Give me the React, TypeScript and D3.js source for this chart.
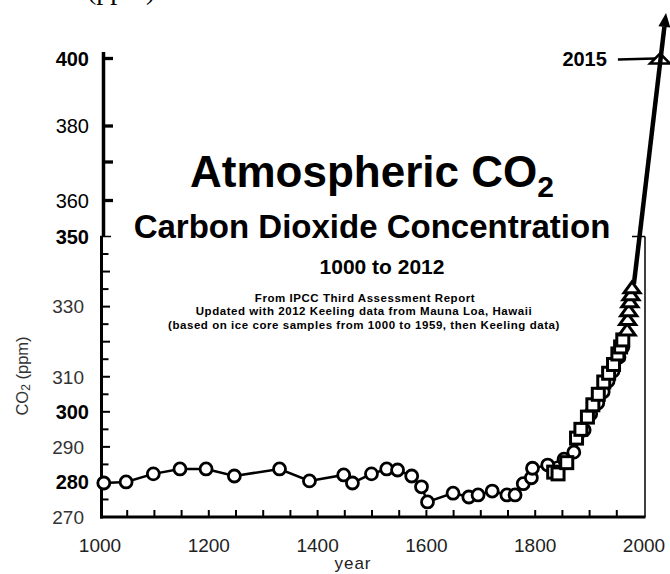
import * as d3 from 'd3'

// ice core (Law Dome style) circles, joined by a line
const circleYears = [1007, 1048, 1098, 1147, 1195, 1247, 1330, 1385, 1448, 1464, 1499, 1527, 1547, 1573, 1591, 1602, 1649, 1678, 1695, 1721, 1748, 1763, 1778, 1793, 1795, 1823, 1853, 1871, 1890, 1902, 1915, 1925, 1934, 1943, 1954, 1961]
const circlePpm = [279.7, 280.0, 282.3, 283.7, 283.7, 281.7, 283.7, 280.3, 282.0, 279.7, 282.3, 283.7, 283.4, 281.7, 278.6, 274.3, 276.8, 275.7, 276.3, 277.4, 276.3, 276.3, 279.5, 281.2, 283.9, 284.8, 286.5, 288.5, 294.8, 299.4, 302.5, 305.7, 308.8, 311.6, 315.6, 318.5]

// second ice core set (squares)
const squareYears = [1834, 1842, 1858, 1876, 1884, 1896, 1906, 1916, 1926, 1935, 1944, 1952, 1957, 1961]
const squarePpm = [282.8, 282.3, 285.5, 292.5, 295.0, 298.5, 302.0, 305.0, 308.5, 311.0, 313.5, 316.5, 318.5, 320.5]

// Keeling / Mauna Loa triangles
const triangleYears = [1969, 1970, 1972, 1974, 1976, 1978]
const trianglePpm = [323.5, 326.5, 329.0, 331.5, 333.5, 335.5]

// hand-drawn extension arrow and the 2015 pointer, as placed on the picture
const arrowYears = [1981.5, 2040.5]
const arrowPpm = [336.5, 413.5]
const pointerYears = [1952, 2021]
const pointerPpm = [399.7, 400]
const mark2015Year = 2029.5
const mark2015Ppm = 400

const xTicks = [1000, 1200, 1400, 1600, 1800, 2000]
const xMinorTicks = d3.range(1050, 2000, 50)
const yLowerMinor = d3.range(275, 350, 5)
const yUpperTicks = [360, 370, 380, 400]
const yLabels = [270, 280, 290, 300, 310, 330, 350, 360, 380, 400]
const yBoldLabels = [280, 300, 350, 400]
const yPlainDark = [360, 380]

const W = 670
const H = 574
const FONT = '"Liberation Sans", Arial, Helvetica, sans-serif'

export default function App() {
  const x = d3.scaleLinear().domain([1000, 2000]).range([100, 644])
  // the picture is a paste-up: the top part of the axis is spaced a bit differently
  const y = d3.scaleLinear()
    .domain([270, 350, 360, 370, 380, 400])
    .range([517, 236.5, 200.5, 162, 126, 58.5])

  const line = d3.line<number>()
    .x((_, i) => x(circleYears[i]))
    .y(d => y(d))

  const tri = (cx: number, cy: number, w: number, h: number) =>
    `M${cx},${cy - h / 2}L${cx + w / 2},${cy + h / 2}L${cx - w / 2},${cy + h / 2}Z`

  const ax0 = x(arrowYears[0]), ay0 = y(arrowPpm[0])
  const ax1 = x(arrowYears[1]), ay1 = y(arrowPpm[1])
  const ang = Math.atan2(ay1 - ay0, ax1 - ax0)
  const headLen = 14, headW = 6
  const bx = ax1 - headLen * Math.cos(ang), by = ay1 - headLen * Math.sin(ang)
  const head = `M${ax1},${ay1}L${bx + headW * Math.sin(ang)},${by - headW * Math.cos(ang)}L${bx - headW * Math.sin(ang)},${by + headW * Math.cos(ang)}Z`

  const px0 = x(pointerYears[0]), py0 = y(pointerPpm[0])
  const px1 = x(pointerYears[1]), py1 = y(pointerPpm[1])

  return (
    <svg width={W} height={H} style={{ position: 'absolute', left: 0, top: 0, background: '#fff' }}
      fontFamily={FONT}>
      {/* cut-off heading from the pasted image */}
      <text x={87} y={-1} fontFamily='"Liberation Serif", "Times New Roman", serif' fontSize={28}>(ppm)</text>

      {/* y axis, upper pasted part */}
      <line x1={103.5} x2={103.5} y1={52} y2={y(350)} stroke="#000" strokeWidth={3.5} />
      {yUpperTicks.map(t => (
        <line key={'ut' + t} x1={103.5} x2={113} y1={y(t)} y2={y(t)} stroke="#000" strokeWidth={3.3} />
      ))}
      {/* y axis, lower original part */}
      <line x1={101.5} x2={101.5} y1={y(350)} y2={518.5} stroke="#000" strokeWidth={3} />
      <line x1={100} x2={111} y1={y(350)} y2={y(350)} stroke="#000" strokeWidth={1.5} />
      {yLowerMinor.map(t => (
        <line key={'lt' + t} x1={102} x2={t % 10 === 0 ? 110 : 108.5} y1={y(t)} y2={y(t)} stroke="#000" strokeWidth={2} />
      ))}
      {yLabels.map(t => (
        <text key={'yl' + t} x={yBoldLabels.includes(t) || yPlainDark.includes(t) ? 89 : 84} y={y(t)} dy="0.36em"
          textAnchor="end"
          fontSize={yBoldLabels.includes(t) ? 20 : yPlainDark.includes(t) ? 20 : 19}
          fontWeight={yBoldLabels.includes(t) ? 'bold' : 'normal'}
          fill={yBoldLabels.includes(t) || yPlainDark.includes(t) ? '#000' : '#333'}>
          {t}
        </text>
      ))}

      {/* x axis */}
      <line x1={100} x2={645.5} y1={517} y2={517} stroke="#000" strokeWidth={3} />
      {xMinorTicks.map(t => (
        <line key={'xt' + t} x1={x(t)} x2={x(t)} y1={510} y2={517} stroke="#000" strokeWidth={2} />
      ))}
      {xTicks.map(t => (
        <text key={'xl' + t} x={x(t)} y={552} textAnchor="middle" fontSize={19} fill="#222">{t}</text>
      ))}
      <text x={353} y={569} textAnchor="middle" fontSize={17} letterSpacing={1} fill="#222">year</text>
      <text transform="translate(28,376) rotate(-90)" textAnchor="middle" fontSize={16.5} fill="#333">
        CO<tspan fontSize={12} dy={2}>2</tspan><tspan dy={-2}> (ppm)</tspan>
      </text>

      {/* right frame of the inset plot */}
      <line x1={645} x2={645} y1={y(350)} y2={517} stroke="#000" strokeWidth={1.5} />
      <line x1={632} x2={645} y1={y(350)} y2={y(350)} stroke="#000" strokeWidth={1.5} />

      {/* titles */}
      <text x={372} y={187} textAnchor="middle" fontSize={44} fontWeight="bold">
        Atmospheric CO<tspan fontSize={30} dy={10}>2</tspan>
      </text>
      <text x={372} y={238} textAnchor="middle" fontSize={33} fontWeight="bold">Carbon Dioxide Concentration</text>
      <text x={382} y={274} textAnchor="middle" fontSize={21} fontWeight="bold">1000 to 2012</text>
      <text x={365} y={301.5} textAnchor="middle" fontSize={11.5} letterSpacing={0.55} fontWeight="bold">From IPCC Third Assessment Report</text>
      <text x={364} y={315} textAnchor="middle" fontSize={11.5} letterSpacing={0.55} fontWeight="bold">Updated with 2012 Keeling data from Mauna Loa, Hawaii</text>
      <text x={364} y={328.5} textAnchor="middle" fontSize={11.5} letterSpacing={0.55} fontWeight="bold">(based on ice core samples from 1000 to 1959, then Keeling data)</text>

      {/* 2015 annotation */}
      <text x={px0 - 11} y={py0 + 6} textAnchor="end" fontSize={20} fontWeight="bold">2015</text>
      <line x1={px0} y1={py0} x2={px1} y2={py1} stroke="#000" strokeWidth={2.5} />
      <path d={tri(x(mark2015Year), y(mark2015Ppm), 20, 10)} fill="#fff" stroke="#000" strokeWidth={2.5} />

      {/* extension arrow */}
      <line x1={ax0} y1={ay0} x2={bx} y2={by} stroke="#000" strokeWidth={4.5} />
      <path d={head} fill="#000" />

      {/* ice core series */}
      <path d={line(circlePpm) ?? ''} fill="none" stroke="#000" strokeWidth={2.5} />
      {circlePpm.map((v, i) => (
        <circle key={'c' + i} cx={x(circleYears[i])} cy={y(v)} r={6} fill="#fff" stroke="#000" strokeWidth={2.8} />
      ))}
      {squarePpm.map((v, i) => (
        <rect key={'s' + i} x={x(squareYears[i]) - 6} y={y(v) - 6} width={12} height={12} fill="#fff" stroke="#000" strokeWidth={3} />
      ))}
      {trianglePpm.map((v, i) => (
        <path key={'t' + i} d={tri(x(triangleYears[i]), y(v), 16, 11)} fill="#fff" stroke="#000" strokeWidth={3} />
      ))}
    </svg>
  )
}
